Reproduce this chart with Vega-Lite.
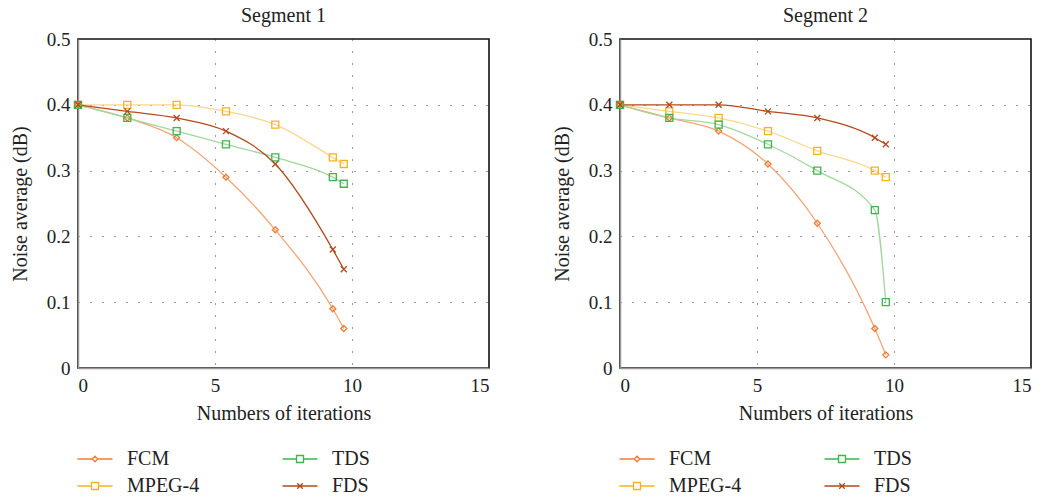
{
  "$schema": "https://vega.github.io/schema/vega-lite/v6.json",
  "background": "white",
  "padding": {"left": 9, "top": 5, "right": 5, "bottom": 5},
  "config": {
    "font": "Liberation Serif",
    "view": {"stroke": "#111111", "strokeWidth": 1.6},
    "title": {"fontSize": 20, "fontWeight": "normal", "color": "#222222", "offset": 4},
    "axis": {
      "domainColor": "#999999", "domainWidth": 1.5, "ticks": false,
      "labelFontSize": 19, "labelColor": "#222222", "labelPadding": 8,
      "titleFontSize": 20, "titleFontWeight": "normal", "titleColor": "#222222",
      "gridColor": "#333333", "gridDash": [1, 11], "gridWidth": 1, "zindex": 1
    },
    "axisX": {"titlePadding": 8},
    "axisY": {"titlePadding": 16},
    "legend": {
      "labelFontSize": 20, "labelColor": "#222222", "symbolSize": 49,
      "symbolStrokeWidth": 1.3, "labelOffset": 22, "columnPadding": 79, "rowPadding": 7
    },
    "concat": {"spacing": 61}
  },
  "data": {"values": [
    {"s": "Segment 1", "k": "FCM", "x": 0, "y": 0.4},
    {"s": "Segment 1", "k": "FCM", "x": 1.8, "y": 0.38},
    {"s": "Segment 1", "k": "FCM", "x": 3.6, "y": 0.35},
    {"s": "Segment 1", "k": "FCM", "x": 5.4, "y": 0.29},
    {"s": "Segment 1", "k": "FCM", "x": 7.2, "y": 0.21},
    {"s": "Segment 1", "k": "FCM", "x": 9.3, "y": 0.09},
    {"s": "Segment 1", "k": "FCM", "x": 9.7, "y": 0.06},
    {"s": "Segment 1", "k": "MPEG-4", "x": 0, "y": 0.4},
    {"s": "Segment 1", "k": "MPEG-4", "x": 1.8, "y": 0.4},
    {"s": "Segment 1", "k": "MPEG-4", "x": 3.6, "y": 0.4},
    {"s": "Segment 1", "k": "MPEG-4", "x": 5.4, "y": 0.39},
    {"s": "Segment 1", "k": "MPEG-4", "x": 7.2, "y": 0.37},
    {"s": "Segment 1", "k": "MPEG-4", "x": 9.3, "y": 0.32},
    {"s": "Segment 1", "k": "MPEG-4", "x": 9.7, "y": 0.31},
    {"s": "Segment 1", "k": "TDS", "x": 0, "y": 0.4},
    {"s": "Segment 1", "k": "TDS", "x": 1.8, "y": 0.38},
    {"s": "Segment 1", "k": "TDS", "x": 3.6, "y": 0.36},
    {"s": "Segment 1", "k": "TDS", "x": 5.4, "y": 0.34},
    {"s": "Segment 1", "k": "TDS", "x": 7.2, "y": 0.32},
    {"s": "Segment 1", "k": "TDS", "x": 9.3, "y": 0.29},
    {"s": "Segment 1", "k": "TDS", "x": 9.7, "y": 0.28},
    {"s": "Segment 1", "k": "FDS", "x": 0, "y": 0.4},
    {"s": "Segment 1", "k": "FDS", "x": 1.8, "y": 0.39},
    {"s": "Segment 1", "k": "FDS", "x": 3.6, "y": 0.38},
    {"s": "Segment 1", "k": "FDS", "x": 5.4, "y": 0.36},
    {"s": "Segment 1", "k": "FDS", "x": 7.2, "y": 0.31},
    {"s": "Segment 1", "k": "FDS", "x": 9.3, "y": 0.18},
    {"s": "Segment 1", "k": "FDS", "x": 9.7, "y": 0.15},
    {"s": "Segment 2", "k": "FCM", "x": 0, "y": 0.4},
    {"s": "Segment 2", "k": "FCM", "x": 1.8, "y": 0.38},
    {"s": "Segment 2", "k": "FCM", "x": 3.6, "y": 0.36},
    {"s": "Segment 2", "k": "FCM", "x": 5.4, "y": 0.31},
    {"s": "Segment 2", "k": "FCM", "x": 7.2, "y": 0.22},
    {"s": "Segment 2", "k": "FCM", "x": 9.3, "y": 0.06},
    {"s": "Segment 2", "k": "FCM", "x": 9.7, "y": 0.02},
    {"s": "Segment 2", "k": "MPEG-4", "x": 0, "y": 0.4},
    {"s": "Segment 2", "k": "MPEG-4", "x": 1.8, "y": 0.39},
    {"s": "Segment 2", "k": "MPEG-4", "x": 3.6, "y": 0.38},
    {"s": "Segment 2", "k": "MPEG-4", "x": 5.4, "y": 0.36},
    {"s": "Segment 2", "k": "MPEG-4", "x": 7.2, "y": 0.33},
    {"s": "Segment 2", "k": "MPEG-4", "x": 9.3, "y": 0.3},
    {"s": "Segment 2", "k": "MPEG-4", "x": 9.7, "y": 0.29},
    {"s": "Segment 2", "k": "TDS", "x": 0, "y": 0.4},
    {"s": "Segment 2", "k": "TDS", "x": 1.8, "y": 0.38},
    {"s": "Segment 2", "k": "TDS", "x": 3.6, "y": 0.37},
    {"s": "Segment 2", "k": "TDS", "x": 5.4, "y": 0.34},
    {"s": "Segment 2", "k": "TDS", "x": 7.2, "y": 0.3},
    {"s": "Segment 2", "k": "TDS", "x": 9.3, "y": 0.24},
    {"s": "Segment 2", "k": "TDS", "x": 9.7, "y": 0.1},
    {"s": "Segment 2", "k": "FDS", "x": 0, "y": 0.4},
    {"s": "Segment 2", "k": "FDS", "x": 1.8, "y": 0.4},
    {"s": "Segment 2", "k": "FDS", "x": 3.6, "y": 0.4},
    {"s": "Segment 2", "k": "FDS", "x": 5.4, "y": 0.39},
    {"s": "Segment 2", "k": "FDS", "x": 7.2, "y": 0.38},
    {"s": "Segment 2", "k": "FDS", "x": 9.3, "y": 0.35},
    {"s": "Segment 2", "k": "FDS", "x": 9.7, "y": 0.34}
  ]},
  "resolve": {"scale": {"color": "independent", "shape": "independent"}},
  "hconcat": [
    {
      "title": "Segment 1",
      "width": 411, "height": 329,
      "transform": [{"filter": "datum.s == 'Segment 1'"}],
      "encoding": {
        "x": {"field": "x", "type": "quantitative", "scale": {"domain": [0, 15], "nice": false},
          "axis": {"values": [0, 5, 10, 15], "title": "Numbers of iterations",
            "gridOpacity": {"condition": {"test": "datum.value == 0 || datum.value == 15", "value": 0}, "value": 1}}},
        "y": {"field": "y", "type": "quantitative", "scale": {"domain": [0, 0.5], "nice": false},
          "axis": {"values": [0, 0.1, 0.2, 0.3, 0.4, 0.5], "format": "~g", "title": "Noise average (dB)",
            "gridOpacity": {"condition": {"test": "datum.value < 0.05 || datum.value > 0.45", "value": 0}, "value": 1}}}
      },
      "layer": [
        {"mark": {"type": "line", "interpolate": "monotone", "strokeWidth": 1.3},
          "encoding": {"stroke": {"field": "k", "type": "nominal", "legend": null,
            "scale": {"domain": ["FCM", "MPEG-4", "TDS", "FDS"], "range": ["#F6A474", "#FFD68C", "#A3D79F", "#B34A1C"]}}}},
        {"transform": [{"filter": "datum.k == 'FCM'"}],
          "mark": {"type": "point", "filled": false, "strokeWidth": 1.3, "size": 36, "opacity": 1, "shape": "M0,-1L1,0L0,1L-1,0Z"},
          "encoding": {"color": {"field": "k", "type": "nominal",
            "scale": {"domain": ["FCM", "MPEG-4", "TDS", "FDS"], "range": ["#EE7D36", "#F7B21F", "#3DB54A", "#B34A1C"]}}}},
        {"transform": [{"filter": "datum.k == 'MPEG-4' || datum.k == 'TDS'"}],
          "mark": {"type": "point", "filled": false, "strokeWidth": 1.3, "size": 49, "opacity": 1, "shape": "M-1,-1H1V1H-1Z"},
          "encoding": {"color": {"field": "k", "type": "nominal"}}},
        {"transform": [{"filter": "datum.k == 'FDS'"}],
          "mark": {"type": "point", "filled": false, "strokeWidth": 1.3, "size": 36, "opacity": 1, "shape": "M-1,-1L1,1M-1,1L1,-1"},
          "encoding": {"color": {"field": "k", "type": "nominal"}}},
        {"transform": [{"filter": "false"}],
          "mark": {"type": "point", "filled": false, "strokeWidth": 1.3, "size": 49, "opacity": 1},
          "encoding": {
            "color": {"field": "k", "type": "nominal",
              "legend": {"title": null, "orient": "none", "legendX": 7, "legendY": 410, "columns": 2}},
            "shape": {"field": "k", "type": "nominal",
              "scale": {"domain": ["FCM", "MPEG-4", "TDS", "FDS"], "range": ["M-5,0H-0.8M0.8,0H5M0,-0.8L0.8,0L0,0.8L-0.8,0Z", "M-5,0H-1M1,0H5M-1,-1H1V1H-1Z", "M-5,0H-1M1,0H5M-1,-1H1V1H-1Z", "M-5,0H5M-0.8,-0.8L0.8,0.8M-0.8,0.8L0.8,-0.8"]},
              "legend": {"title": null, "orient": "none", "legendX": 7, "legendY": 410, "columns": 2}}
          }}
      ]
    },
    {
      "title": "Segment 2",
      "width": 411, "height": 329,
      "transform": [{"filter": "datum.s == 'Segment 2'"}],
      "encoding": {
        "x": {"field": "x", "type": "quantitative", "scale": {"domain": [0, 15], "nice": false},
          "axis": {"values": [0, 5, 10, 15], "title": "Numbers of iterations",
            "gridOpacity": {"condition": {"test": "datum.value == 0 || datum.value == 15", "value": 0}, "value": 1}}},
        "y": {"field": "y", "type": "quantitative", "scale": {"domain": [0, 0.5], "nice": false},
          "axis": {"values": [0, 0.1, 0.2, 0.3, 0.4, 0.5], "format": "~g", "title": "Noise average (dB)",
            "gridOpacity": {"condition": {"test": "datum.value < 0.05 || datum.value > 0.45", "value": 0}, "value": 1}}}
      },
      "layer": [
        {"mark": {"type": "line", "interpolate": "monotone", "strokeWidth": 1.3},
          "encoding": {"stroke": {"field": "k", "type": "nominal", "legend": null,
            "scale": {"domain": ["FCM", "MPEG-4", "TDS", "FDS"], "range": ["#F6A474", "#FFD68C", "#A3D79F", "#B34A1C"]}}}},
        {"transform": [{"filter": "datum.k == 'FCM'"}],
          "mark": {"type": "point", "filled": false, "strokeWidth": 1.3, "size": 36, "opacity": 1, "shape": "M0,-1L1,0L0,1L-1,0Z"},
          "encoding": {"color": {"field": "k", "type": "nominal",
            "scale": {"domain": ["FCM", "MPEG-4", "TDS", "FDS"], "range": ["#EE7D36", "#F7B21F", "#3DB54A", "#B34A1C"]}}}},
        {"transform": [{"filter": "datum.k == 'MPEG-4' || datum.k == 'TDS'"}],
          "mark": {"type": "point", "filled": false, "strokeWidth": 1.3, "size": 49, "opacity": 1, "shape": "M-1,-1H1V1H-1Z"},
          "encoding": {"color": {"field": "k", "type": "nominal"}}},
        {"transform": [{"filter": "datum.k == 'FDS'"}],
          "mark": {"type": "point", "filled": false, "strokeWidth": 1.3, "size": 36, "opacity": 1, "shape": "M-1,-1L1,1M-1,1L1,-1"},
          "encoding": {"color": {"field": "k", "type": "nominal"}}},
        {"transform": [{"filter": "false"}],
          "mark": {"type": "point", "filled": false, "strokeWidth": 1.3, "size": 49, "opacity": 1},
          "encoding": {
            "color": {"field": "k", "type": "nominal",
              "legend": {"title": null, "orient": "none", "legendX": 7, "legendY": 410, "columns": 2}},
            "shape": {"field": "k", "type": "nominal",
              "scale": {"domain": ["FCM", "MPEG-4", "TDS", "FDS"], "range": ["M-5,0H-0.8M0.8,0H5M0,-0.8L0.8,0L0,0.8L-0.8,0Z", "M-5,0H-1M1,0H5M-1,-1H1V1H-1Z", "M-5,0H-1M1,0H5M-1,-1H1V1H-1Z", "M-5,0H5M-0.8,-0.8L0.8,0.8M-0.8,0.8L0.8,-0.8"]},
              "legend": {"title": null, "orient": "none", "legendX": 7, "legendY": 410, "columns": 2}}
          }}
      ]
    }
  ]
}
